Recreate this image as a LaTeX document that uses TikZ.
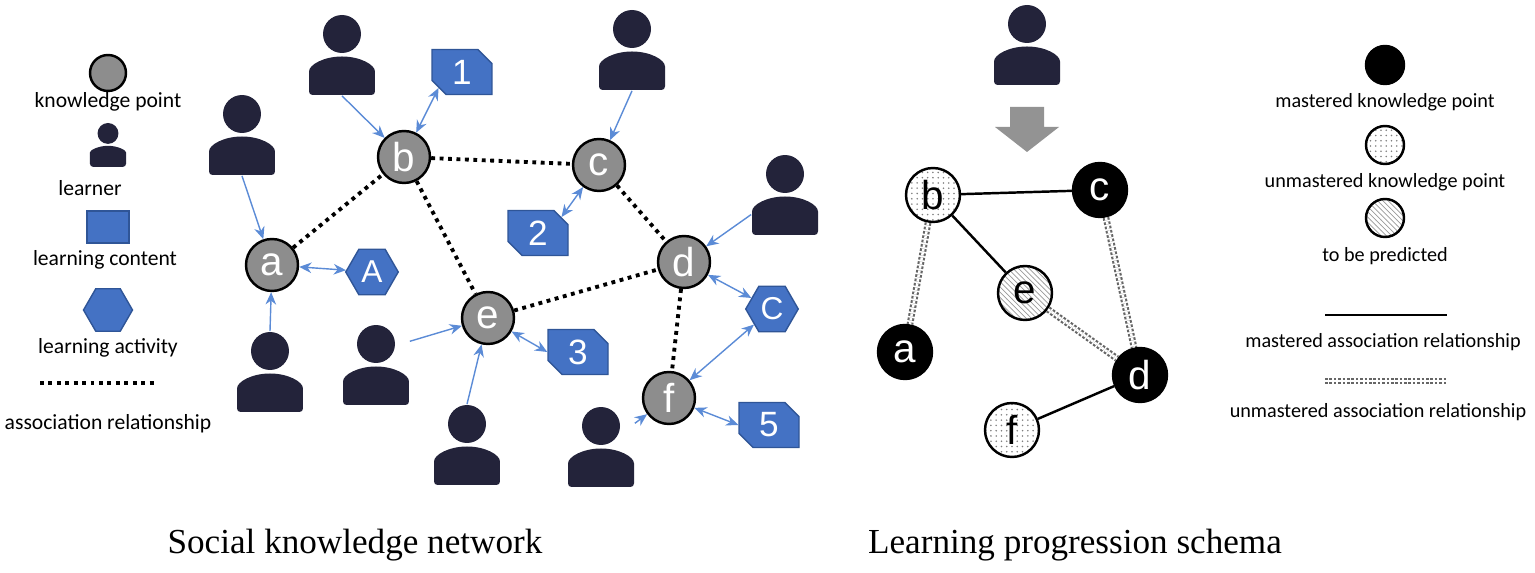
\documentclass[tikz,border=0pt]{standalone}
\usepackage{fontspec}
\setmainfont{Liberation Serif}
\newfontfamily\lgd{Carlito}
\newfontfamily\ltr{Liberation Sans}
\usetikzlibrary{shapes.geometric,shapes.misc,arrows.meta,patterns,calc}
\definecolor{pcol}{HTML}{23233A}
\definecolor{bfill}{HTML}{4472C4}
\definecolor{bedge}{HTML}{2F5597}
\definecolor{acol}{HTML}{5B8BD6}
\tikzset{
 kp/.style={circle,draw=black,line width=1.4pt,fill=gray!95!black!85,minimum size=1.04cm,inner sep=0pt,text=white,font=\ltr\fontsize{23}{23}\selectfont},
 rk/.style={circle,draw=black,line width=1.4pt,minimum size=1.08cm,inner sep=0pt,font=\ltr\fontsize{23}{23}\selectfont},
 mk/.style={rk,fill=black,text=white},
 uk/.style={rk,pattern=dots,pattern color=gray},
 hk/.style={rk,pattern=north west lines,pattern color=gray!80},
 person/.style={minimum width=1.34cm*#1,minimum height=1.62cm*#1,inner sep=0pt,draw=none,
   path picture={
   \fill[pcol] ($(path picture bounding box.center)+(0,0.42cm*#1)$) circle[radius=0.38cm*#1];
   \fill[pcol,rounded corners=2pt] ($(path picture bounding box.center)+(-0.66cm*#1,-0.8cm*#1)$) -- ++(0,0.4cm*#1) arc[start angle=180,end angle=0,x radius=0.66cm*#1,y radius=0.37cm*#1] -- ++(0,-0.4cm*#1) -- cycle;
   }},
 person/.default=1,
 lc/.style={chamfered rectangle,chamfered rectangle corners={north east,south west},chamfered rectangle xsep=4pt,chamfered rectangle ysep=4pt,fill=bfill,draw=bedge,line width=0.8pt,minimum width=1.2cm,minimum height=0.9cm,inner sep=0pt,text=white,font=\ltr\fontsize{20}{20}\selectfont},
 la/.style={regular polygon,regular polygon sides=6,fill=bfill,draw=bedge,line width=0.8pt,minimum size=1.05cm,inner sep=0pt,text=white,font=\ltr\fontsize{18}{18}\selectfont},
 one/.style={-{Stealth[length=7pt,width=6pt]},acol,line width=0.8pt},
 two/.style={{Stealth[length=7pt,width=6pt]}-{Stealth[length=7pt,width=6pt]},acol,line width=0.8pt},
 asso/.style={line width=2.2pt,dash pattern=on 2.2pt off 2.6pt},
 ms/.style={line width=1.4pt},
 um/.style={draw=gray!80!black,double=white,double distance=1.4pt,line width=1.2pt,dash pattern=on 1.5pt off 1pt},
 lt/.style={font=\lgd\fontsize{12.3}{13}\selectfont},
 rt/.style={font=\lgd\fontsize{11.5}{13}\selectfont},
 captxt/.style={font=\fontsize{20}{24}\selectfont},
}
\begin{document}
\begin{tikzpicture}[x=0.02cm,y=-0.02cm]
\useasboundingbox (0,0) rectangle (1535,573);
% legend left
\node[kp,minimum size=0.72cm] (Lk) at (108,73) {};
\node[lt] (Lkt) at (108,102) {knowledge point};
\node[person=0.55] (Lp) at (108,145) {};
\node[lt] (Lpt) at (90,188) {learner};
\node[lc,minimum width=0.84cm,minimum height=0.64cm,chamfered rectangle xsep=3pt,chamfered rectangle ysep=3pt] (Lc) at (108,227) {};
\node[lt] (Lct) at (105,260) {learning content};
\node[la,minimum size=0.98cm] (La) at (108,310) {};
\node[lt] (Lat) at (108,348) {learning activity};
\coordinate (L1) at (40,383); \coordinate (L2) at (156,383);
\draw[asso] (L1) -- (L2);
\node[lt] (Lrt) at (108,424) {association relationship};
% knowledge points
\node[kp] (a) at (272,265) {a};
\node[kp] (b) at (404,157) {b};
\node[kp] (c) at (599,165) {c};
\node[kp] (d) at (684,262) {d};
\node[kp] (e) at (488,318) {e};
\node[kp] (f) at (669,398) {f};
\draw[asso] (a) -- (b); \draw[asso] (b) -- (c); \draw[asso] (b) -- (e);
\draw[asso] (c) -- (d); \draw[asso] (e) -- (d); \draw[asso] (d) -- (f);
% learners
\node[person] (p1) at (342,55) {};
\node[person] (p2) at (632,50) {};
\node[person] (p3) at (242,135) {};
\node[person] (p4) at (785,195) {};
\node[person] (p5) at (270,372) {};
\node[person] (p6) at (376,365) {};
\node[person] (p7) at (467,445) {};
\node[person] (p8) at (601,447) {};
% contents / activities
\node[lc] (c1) at (462,72) {1};
\node[lc] (c2) at (538,233) {2};
\node[lc] (c3) at (578,352) {3};
\node[lc] (c5) at (769,425) {5};
\node[la] (hA) at (372,272) {A};
\node[la] (hC) at (772,309) {C};
\draw[one] (p1.south) -- (b);
\draw[two] (c1.south west) -- (b);
\draw[one] (p2.south) -- (c);
\draw[two] (c2.north east) -- (c);
\draw[one] (p3.south) -- (a);
\draw[two] (a) -- (hA);
\draw[one] (p5.north) -- (a);
\draw[one] (p6.35) -- (e);
\draw[one] (p7.north) -- (e);
\draw[two] (e) -- (c3.west);
\draw[one] (p4.-150) -- (d);
\draw[two] (d) -- (hC);
\draw[two] (hC) -- (f);
\draw[one] (p8.35) -- (f);
\draw[two] (f) -- (c5.west);
% right schema
\node[person] (rp) at (1027,45) {};
\fill[gray!85] (1010,107) -- (1044,107) -- (1044,127) -- (1059,127) -- (1027,152) -- (995,127) -- (1010,127) -- cycle;
\node[uk] (rb) at (933,195) {b};
\node[mk] (rc) at (1100,190) {c};
\node[hk] (re) at (1025,293) {e};
\node[mk] (ra) at (905,352) {a};
\node[mk] (rd) at (1140,375) {d};
\node[uk] (rf) at (1012,430) {f};
\draw[ms] (rb) -- (rc); \draw[ms] (rb) -- (re); \draw[ms] (rd) -- (rf);
\draw[um] (rb) -- (ra); \draw[um] (rc) -- (rd); \draw[um] (re) -- (rd);
% right legend
\node[mk,minimum size=0.76cm] (Rm) at (1385,65) {};
\node[rt] (Rmt) at (1385,102) {mastered knowledge point};
\node[uk,minimum size=0.76cm] (Ru) at (1385,145) {};
\node[rt] (Rut) at (1385,182) {unmastered knowledge point};
\node[hk,minimum size=0.76cm] (Rh) at (1385,218) {};
\node[rt] (Rht) at (1385,256) {to be predicted};
\coordinate (R1) at (1325,315); \coordinate (R2) at (1447,315);
\draw[ms] (R1) -- (R2);
\node[rt] (R1t) at (1383,342) {mastered association relationship};
\coordinate (R3) at (1325,381); \coordinate (R4) at (1447,381);
\draw[um] (R3) -- (R4);
\node[rt] (R2t) at (1378,412) {unmastered association relationship};
% captions
\node[captxt] (cap1) at (355,545) {Social knowledge network};
\node[captxt] (cap2) at (1075,545) {Learning progression schema};
\end{tikzpicture}
\end{document}
